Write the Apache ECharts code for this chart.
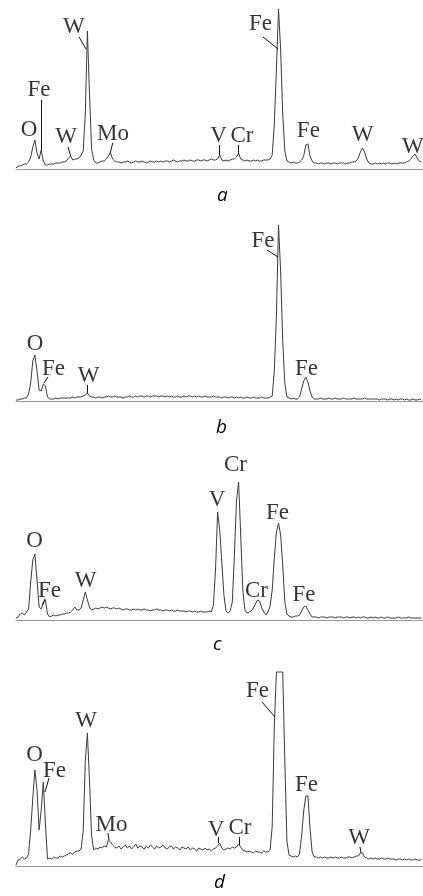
<!DOCTYPE html>
<html>
<head>
<meta charset="utf-8">
<script src="https://cdn.jsdelivr.net/npm/echarts@6/dist/echarts.min.js"></script>
<style>
html,body{margin:0;padding:0;background:#fff;}
#chart{width:423px;height:896px;}
</style>
</head>
<body>
<div id="chart"></div>
<script>
// Channel calibration (keV) of the EDS spectra
const channelStart = 0.15;
const channelStep = 0.05;

// Spectrum intensities (arbitrary counts), one value per channel
const spectrumA = [
  1,3,3,4,5,5,7,12,22,29, 16,10,19,8,4,4,5,5,5,6,
  6,6,7,7,8,11,13,9,10,10, 11,14,18,55,138,75,20,9,6,6,
  7,8,8,10,13,16,10,8,7,7, 6,7,7,8,7,6,7,8,7,7,
  8,7,6,7,8,7,7,8,7,8, 7,8,8,7,8,9,8,7,8,8,
  9,8,8,9,8,8,9,9,8,9, 9,8,9,10,9,9,10,14,9,8,
  9,8,9,10,10,12,16,10,9,8, 9,8,8,9,8,9,8,8,9,9,
  9,10,14,45,100,160,120,55,18,8, 7,6,7,6,6,7,9,13,24,25,
  13,8,6,6,5,6,6,5,6,6, 5,6,6,5,6,6,6,5,6,6,
  7,7,8,11,17,21,17,10,6,5, 5,6,5,6,5,6,5,6,6,5,
  6,5,6,6,6,6,7,8,10,13, 15,11,8,7
];
const spectrumB = [
  1,1,2,2,3,3,7,18,40,46, 30,11,10,17,15,4,2,2,2,3,
  2,3,3,3,3,3,3,4,3,4, 4,4,5,6,8,5,4,4,3,4,
  4,3,4,4,5,4,4,5,4,4, 4,3,4,4,5,4,4,5,4,5,
  5,4,5,5,4,5,5,5,4,5, 5,4,5,4,5,4,4,5,4,4,
  5,4,5,5,4,5,4,5,4,4, 5,4,4,4,5,4,4,4,3,4,
  4,3,4,4,3,4,3,4,3,3, 4,3,3,4,3,3,3,4,3,3,
  3,4,5,30,85,176,130,60,18,4, 3,2,3,2,2,4,12,20,24,19,
  10,4,2,2,2,3,2,2,2,3, 2,2,3,2,2,2,3,2,2,2,
  2,3,2,2,2,2,3,2,2,2, 2,2,2,1,2,2,2,1,2,2,
  1,2,1,2,2,1,2,1,1,2, 1,1,2,1
];
const spectrumC = [
  2,3,6,7,5,8,11,38,60,66, 40,13,11,18,20,6,3,4,5,4,
  5,5,6,6,7,7,8,10,13,10, 10,12,20,28,20,13,10,11,12,11,
  12,13,12,13,12,11,12,12,11,12, 11,10,11,11,10,10,11,10,11,10,
  10,11,10,10,9,10,10,11,10,10, 9,10,10,9,10,9,9,10,9,9,
  9,8,9,9,8,9,8,8,9,8, 8,8,9,8,15,50,108,90,58,25,
  9,7,9,18,65,120,138,85,30,10, 7,8,9,12,16,20,19,12,8,5,
  8,14,30,62,88,97,85,55,18,6, 4,3,3,4,4,5,9,13,14,10,
  6,3,3,3,2,3,3,3,2,3, 3,3,2,3,3,3,2,3,3,2,
  3,3,2,3,2,3,3,2,2,3, 2,3,2,2,3,2,2,3,2,2,
  2,2,3,2,2,2,2,3,2,2, 2,2,2,2
];
const spectrumD = [
  1,6,7,9,7,8,12,36,68,96, 76,36,56,84,42,7,8,7,9,8,
  8,10,9,10,11,12,13,12,14,15, 15,17,35,105,133,85,30,16,18,17,
  19,18,20,19,26,24,21,19,18,20, 17,19,21,18,20,17,19,22,18,20,
  19,17,20,18,21,19,17,20,18,19, 21,18,17,19,20,17,19,18,16,19,
  18,17,19,16,18,17,15,18,17,16, 18,16,17,15,17,18,20,23,18,16,
  17,18,17,19,18,19,22,19,16,15, 14,15,14,13,15,14,14,13,15,14,
  14,16,40,140,194,194,194,194,105,25, 11,10,9,10,9,12,30,55,70,70,
  38,14,9,9,8,9,8,9,8,8, 9,8,9,8,8,9,8,8,9,9,
  8,9,10,10,13,13,9,8,7,8, 7,8,7,7,8,7,7,8,7,7,
  7,6,7,7,6,7,6,7,6,6, 7,6,6,6
];

// Peak labels: element, energy (keV), label height (counts)
const labelsA = ['O','Fe','W','W','Mo','V','Cr','Fe','Fe','W','W'];
const labelEA = [0.46,0.698,1.34,1.53,2.46,4.97,5.53,5.97,7.11,8.40,9.60];
const labelVA = [39.5,79.5,32.5,142,35.5,33.5,33.5,145.5,38,34,22.5];
const labelsB = ['O','Fe','W','Fe','Fe'];
const labelEB = [0.602,1.043,1.876,6.031,7.067];
const labelVB = [57.5,32.5,25.5,160.5,32.5];
const labelsC = ['O','Fe','W','V','Cr','Cr','Fe','Fe'];
const labelEC = [0.590,0.948,1.805,4.936,5.376,5.876,6.376,7.007];
const labelVC = [79.5,29.5,39.5,120.5,155,29.5,107.5,25.5];
const labelsD = ['O','Fe','W','Mo','V','Cr','Fe','Fe','W'];
const labelED = [0.590,1.067,1.817,2.424,4.912,5.483,5.90,7.067,8.317];
const labelVD = [111.5,95.5,145,41.5,36,38.5,175.5,81.5,28.5];

// Leader lines: [E1, v1, E2, v2]
const leadersA = [[0.762,69,0.762,19],[1.388,22,1.452,13],[1.65,132,1.817,120],[2.452,26,2.388,15],[4.983,24,4.983,14],[5.436,24,5.436,15],[6.031,132,6.388,120]];
const leadersB = [[0.912,24,0.817,18],[1.840,16,1.840,8],[6.126,151,6.388,144]];
const leadersC = [[0.84,21,0.79,15]];
const leadersD = [[0.936,88,0.840,74],[2.340,33,2.364,26],[4.960,29,4.960,23],[5.46,29,5.46,21],[6.007,164,6.317,149],[8.34,19,8.364,13]];

const panelNames = ['a','b','c','d'];

const chart = echarts.init(document.getElementById('chart'), null, {renderer:'canvas'});

const panels = [
  {spec: spectrumA, names: labelsA, le: labelEA, lv: labelVA, leaders: leadersA, top: 4, height: 165},
  {spec: spectrumB, names: labelsB, le: labelEB, lv: labelVB, leaders: leadersB, top: 216, height: 185},
  {spec: spectrumC, names: labelsC, le: labelEC, lv: labelVC, leaders: leadersC, top: 450, height: 170},
  {spec: spectrumD, names: labelsD, le: labelED, lv: labelVD, leaders: leadersD, top: 666, height: 200}
];

const grids = [], xAxes = [], yAxes = [], series = [];
panels.forEach((p, k) => {
  grids.push({left: 16, right: 0, top: p.top, height: p.height});
  xAxes.push({
    type: 'value', gridIndex: k, min: 0.15, max: 9.84,
    axisLine: {show: true, onZero: false, lineStyle: {color: '#9a9a9a', width: 1.2}},
    axisTick: {show: false}, axisLabel: {show: false}, splitLine: {show: false}
  });
  yAxes.push({type: 'value', gridIndex: k, min: 0, max: p.height, show: false});
  series.push({
    type: 'line', xAxisIndex: k, yAxisIndex: k,
    data: p.spec.map((v, i) => [channelStart + channelStep * i, v]),
    showSymbol: false, symbol: 'none', clip: false,
    lineStyle: {color: '#3c3c3c', width: 1},
    silent: true, z: 2
  });
  series.push({
    type: 'scatter', xAxisIndex: k, yAxisIndex: k,
    data: p.names.map((n, j) => ({name: n, value: [p.le[j], p.lv[j]]})),
    symbolSize: 0, silent: true, z: 5,
    label: {
      show: true, position: 'inside', formatter: '{b}',
      fontFamily: '"Liberation Serif", "Times New Roman", serif',
      fontSize: 23, color: '#000', align: 'center', verticalAlign: 'middle'
    },
    markLine: {
      silent: true, symbol: ['none','none'], animation: false,
      label: {show: false},
      lineStyle: {color: '#111', width: 1, type: 'solid'},
      emphasis: {disabled: true},
      data: p.leaders.map(l => [{coord: [l[0], l[1]]}, {coord: [l[2], l[3]]}])
    }
  });
});

const subPos = [[223,199.5],[222,431.5],[219,648],[220,886.5]];
const graphic = panelNames.map((t, k) => ({
  type: 'text', left: subPos[k][0] - 6, top: subPos[k][1] - 13,
  style: {
    text: t, fill: '#000',
    font: 'italic 19px "Open Sans", "Noto Sans", sans-serif'
  }
}));

chart.setOption({
  animation: false,
  backgroundColor: '#fff',
  grid: grids, xAxis: xAxes, yAxis: yAxes, series: series,
  graphic: graphic
});
</script>
</body>
</html>
